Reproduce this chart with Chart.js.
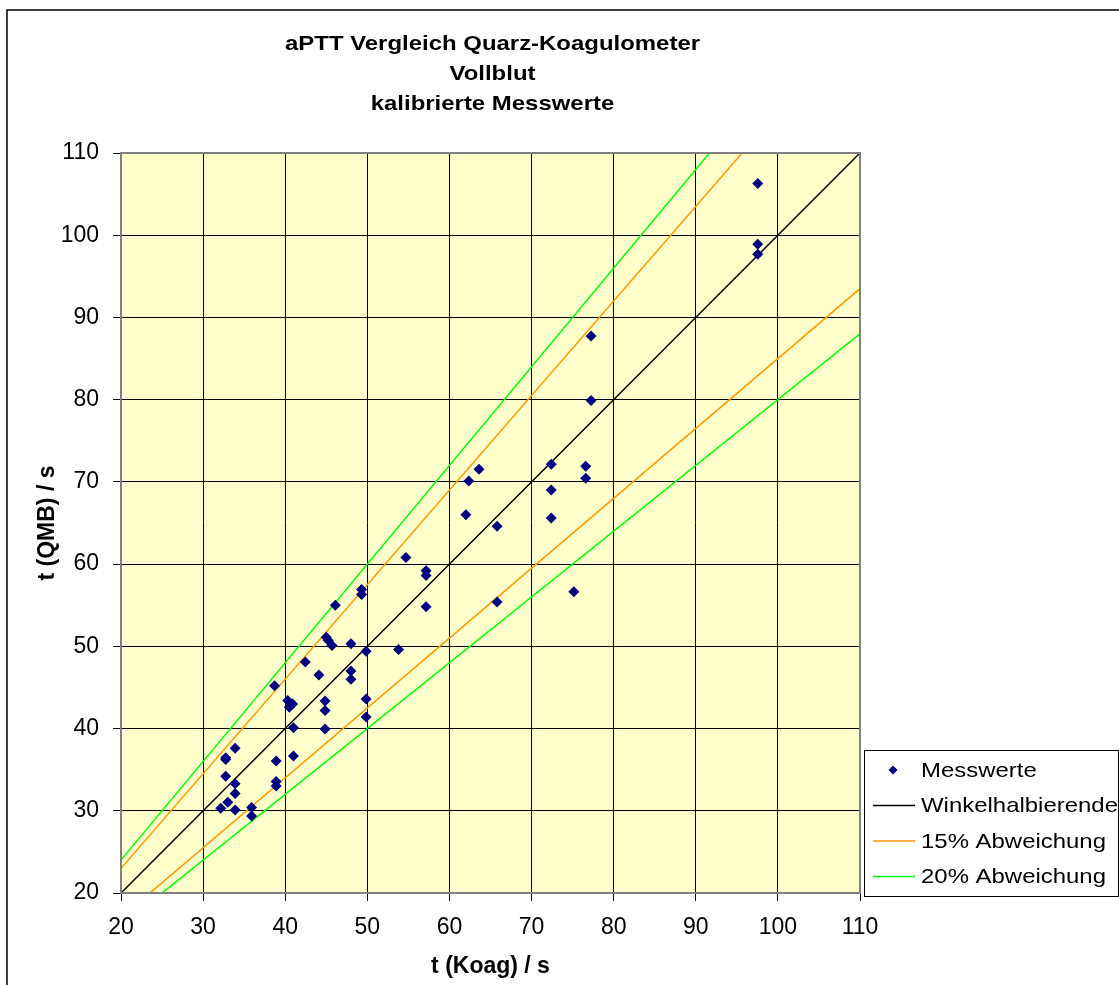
<!DOCTYPE html>
<html>
<head>
<meta charset="utf-8">
<script src="https://cdn.jsdelivr.net/npm/chart.js@4/dist/chart.umd.min.js"></script>
<style>
  html, body { margin: 0; padding: 0; background: #fff; }
  canvas { display: block; }
</style>
</head>
<body>
<canvas id="aptt" width="1119" height="985"></canvas>
<script>
// Messwerte (t Koag / t QMB in s)
const messX = [97.55, 97.55, 97.55, 77.25, 77.25, 76.6, 76.6, 72.4, 72.4, 72.4,
  75.15, 63.6, 62.35, 62.0, 65.8, 65.8, 54.7, 57.15, 57.15, 57.15,
  49.3, 49.3, 46.1, 45.0, 45.25, 45.7, 48.0, 49.85, 53.8, 42.45,
  44.1, 48.0, 48.0, 38.7, 40.3, 40.9, 40.5, 44.85, 44.85, 49.85,
  49.85, 41.0, 44.85, 33.9, 32.75, 32.75, 38.9, 41.0, 32.75, 33.9,
  33.9, 38.9, 38.9, 33.0, 32.15, 33.9, 35.9, 35.9];
const messY = [106.3, 98.9, 97.7, 87.75, 79.9, 71.9, 70.45, 72.15, 69.0, 65.6,
  56.65, 71.55, 70.1, 66.0, 64.6, 55.4, 60.8, 59.2, 58.6, 54.8,
  56.9, 56.3, 55.0, 51.1, 50.7, 50.1, 50.3, 49.4, 49.6, 48.1,
  46.5, 47.0, 46.0, 45.2, 43.4, 43.0, 42.6, 43.35, 42.2, 43.6,
  41.4, 40.1, 39.95, 37.6, 36.45, 36.25, 36.05, 36.65, 34.2, 33.3,
  32.1, 33.55, 33.0, 31.05, 30.3, 30.1, 30.4, 29.35];

// Hilfslinien (Endpunkte)
const linieX = [20, 110];
const winkelY = [20, 110];
const plus15Y = [23, 126.5];
const minus15Y = [17, 93.5];
const plus20Y = [24, 132];
const minus20Y = [16, 88];

const achsenTicks = [20, 30, 40, 50, 60, 70, 80, 90, 100, 110];
const titelZeilen = ['aPTT Vergleich Quarz-Koagulometer', 'Vollblut', 'kalibrierte Messwerte'];

function punkte(xs, ys) {
  return xs.map((x, i) => ({ x: x, y: ys[i] }));
}

function linie(label, ys, color, imLegend) {
  return {
    label: label,
    data: punkte(linieX, ys),
    showLine: true,
    borderColor: color,
    backgroundColor: color,
    borderWidth: 1.5,
    pointRadius: 0,
    pointHoverRadius: 0,
    imLegend: imLegend
  };
}

const FONT = '"Liberation Sans", Arial, sans-serif';
const STRECK = 1.14; // Excel-Schrift ist etwas breiter

// Text leicht in die Breite gezogen zeichnen
function breitText(ctx, text, x, y, align) {
  ctx.save();
  ctx.translate(x, y);
  ctx.scale(STRECK, 1);
  ctx.textAlign = align;
  ctx.fillText(text, 0, 0);
  ctx.restore();
}

// Hintergrund, Rahmen, Titel, Legende
const excelLook = {
  id: 'excelLook',
  beforeDraw(chart) {
    const { ctx, chartArea: a } = chart;
    ctx.save();
    ctx.fillStyle = '#ffffff';
    ctx.fillRect(0, 0, chart.width, chart.height);
    ctx.strokeStyle = '#000000';
    ctx.lineWidth = 1.5;
    ctx.strokeRect(7, 10, chart.width + 20, chart.height + 20);
    ctx.fillStyle = '#ffffcc';
    ctx.fillRect(a.left, a.top, a.right - a.left, a.bottom - a.top);
    ctx.restore();
  },
  afterDraw(chart) {
    const { ctx, chartArea: a } = chart;
    ctx.save();
    ctx.strokeStyle = '#808080';
    ctx.lineWidth = 2;
    ctx.strokeRect(a.left, a.top, a.right - a.left, a.bottom - a.top);

    // Titel
    ctx.fillStyle = '#000';
    ctx.font = 'bold 21px ' + FONT;
    ctx.textBaseline = 'middle';
    const cx = (a.left + a.right) / 2 + 2;
    titelZeilen.forEach((t, i) => breitText(ctx, t, cx, 44 + i * 30, 'center'));

    // Legende
    const lx = 864, ly = 750, lw = 254, lh = 146;
    ctx.fillStyle = '#ffffff';
    ctx.fillRect(lx, ly, lw, lh);
    ctx.strokeStyle = '#000';
    ctx.lineWidth = 1;
    ctx.strokeRect(lx + 0.5, ly + 0.5, lw, lh);
    ctx.font = '21px ' + FONT;
    const eintraege = chart.data.datasets.filter(ds => ds.imLegend !== false);
    eintraege.forEach((ds, i) => {
      const y = 770 + i * 35.5;
      if (ds.showLine) {
        ctx.strokeStyle = ds.borderColor;
        ctx.lineWidth = 1.5;
        ctx.beginPath();
        ctx.moveTo(873, y);
        ctx.lineTo(915, y);
        ctx.stroke();
      } else {
        ctx.fillStyle = ds.backgroundColor;
        ctx.beginPath();
        ctx.moveTo(893, y - 4.5);
        ctx.lineTo(897.5, y);
        ctx.lineTo(893, y + 4.5);
        ctx.lineTo(888.5, y);
        ctx.closePath();
        ctx.fill();
      }
      ctx.fillStyle = '#000';
      breitText(ctx, ds.label, 921, y + 1, 'left');
    });
    ctx.restore();
  }
};

const ctx = document.getElementById('aptt').getContext('2d');
const chart = new Chart(ctx, {
  type: 'scatter',
  data: {
    datasets: [
      {
        label: 'Messwerte',
        data: punkte(messX, messY),
        pointStyle: 'rectRot',
        pointRadius: 5.5,
        pointHoverRadius: 5.5,
        backgroundColor: '#000080',
        borderColor: '#000080',
        borderWidth: 0
      },
      linie('Winkelhalbierende', winkelY, '#000000', true),
      linie('15% Abweichung', plus15Y, '#ff9900', true),
      linie('20% Abweichung', plus20Y, '#00ff00', true),
      linie('15% Abweichung', minus15Y, '#ff9900', false),
      linie('20% Abweichung', minus20Y, '#00ff00', false)
    ]
  },
  options: {
    responsive: false,
    animation: false,
    devicePixelRatio: 1,
    layout: { padding: { left: 7, top: 153, right: 1119 - 860, bottom: 0 } },
    plugins: {
      legend: { display: false },
      tooltip: { enabled: false },
      title: { display: false }
    },
    scales: {
      x: {
        type: 'linear',
        min: 20,
        max: 110,
        afterBuildTicks: (s) => { s.ticks = achsenTicks.map(v => ({ value: v })); },
        afterFit: (s) => { s.height = 92; },
        grid: { color: '#000', lineWidth: 1, tickLength: 8, drawTicks: true },
        border: { color: '#808080', width: 2 },
        ticks: { color: '#000', padding: 13, font: { family: FONT, size: 23 } },
        title: {
          display: true,
          text: 't (Koag) / s',
          color: '#000',
          padding: { top: 0, bottom: 5 },
          font: { family: FONT, size: 23, weight: 'bold' }
        }
      },
      y: {
        type: 'linear',
        min: 20,
        max: 110,
        afterBuildTicks: (s) => { s.ticks = achsenTicks.map(v => ({ value: v })); },
        afterFit: (s) => { s.width = 114; },
        grid: { color: '#000', lineWidth: 1, tickLength: 8, drawTicks: true },
        border: { color: '#808080', width: 2 },
        ticks: { color: '#000', padding: 14, font: { family: FONT, size: 23 } },
        title: {
          display: true,
          text: 't (QMB) / s',
          color: '#000',
          padding: { top: 27, bottom: 0 },
          font: { family: FONT, size: 23, weight: 'bold' }
        }
      }
    }
  },
  plugins: [excelLook]
});
</script>
</body>
</html>
